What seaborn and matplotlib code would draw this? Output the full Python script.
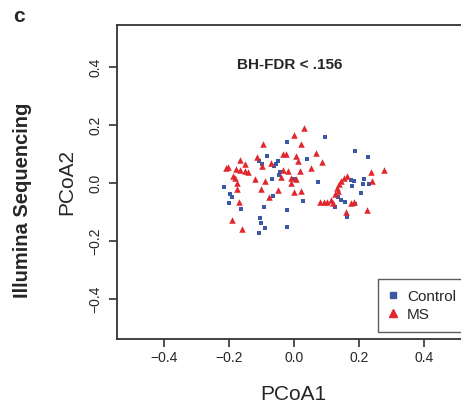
import numpy as np
import pandas as pd
import matplotlib
matplotlib.use("Agg")
import matplotlib.pyplot as plt
from matplotlib.lines import Line2D
import seaborn as sns

# ---- data ----
ms_x = [0.029, -0.002, -0.096, 0.022, 0.068, -0.114, -0.035, -0.027, 0.006, 0.010,
        -0.166, -0.153, -0.073, -0.098, 0.085, -0.210, -0.203, -0.178, -0.168, -0.153,
        -0.141, -0.035, -0.018, 0.019, 0.052, -0.188, -0.182, -0.120, -0.090, -0.040,
        -0.009, 0.006, -0.176, -0.175, -0.101, -0.049, -0.011, -0.001, 0.022, -0.077,
        -0.169, 0.078, 0.091, 0.102, -0.192, -0.160, 0.162, 0.152, 0.145, 0.138,
        0.132, 0.134, 0.124, 0.114, 0.119, 0.175, 0.182, 0.160, 0.224, 0.235,
        0.276, 0.239]
ms_y = [0.191, 0.166, 0.133, 0.134, 0.104, 0.089, 0.099, 0.099, 0.093, 0.076,
        0.079, 0.066, 0.068, 0.060, 0.072, 0.053, 0.054, 0.047, 0.045, 0.042,
        0.039, 0.044, 0.041, 0.042, 0.053, 0.023, 0.018, 0.015, 0.008, 0.020,
        0.016, 0.014, -0.001, -0.022, -0.022, -0.024, 0.001, -0.030, -0.027, -0.047,
        -0.067, -0.064, -0.064, -0.064, -0.128, -0.160, 0.025, 0.018, 0.008, -0.004,
        -0.016, -0.028, -0.039, -0.059, -0.070, -0.068, -0.064, -0.101, -0.093, 0.039,
        0.044, 0.008]
ctrl_x = [0.094, -0.022, 0.188, -0.083, -0.108, -0.098, -0.050, -0.055, -0.061, 0.039,
          -0.043, -0.047, -0.068, -0.001, 0.072, -0.215, -0.197, -0.192, -0.202, -0.165,
          -0.066, 0.028, -0.093, -0.022, -0.104, -0.101, -0.091, -0.110, -0.022, 0.174,
          0.184, 0.178, 0.134, 0.145, 0.155, 0.124, 0.161, 0.228, 0.214, 0.211,
          0.231, 0.206, 0.186]
ctrl_y = [0.158, 0.140, 0.111, 0.093, 0.075, 0.066, 0.076, 0.064, 0.059, 0.082,
          0.039, 0.028, 0.015, 0.015, 0.003, -0.013, -0.039, -0.047, -0.070, -0.091,
          -0.045, -0.062, -0.083, -0.092, -0.122, -0.137, -0.154, -0.171, -0.151, 0.010,
          0.007, -0.010, -0.047, -0.059, -0.067, -0.082, -0.118, 0.089, 0.013, -0.004,
          -0.003, -0.033, -0.072]
groups = ["Control", "MS"]
x_ticks = [-0.4, -0.2, 0.0, 0.2, 0.4]
y_ticks = [-0.4, -0.2, 0.0, 0.2, 0.4]
annotation = "BH-FDR < .156"

df = pd.DataFrame({
    "PCoA1": ctrl_x + ms_x,
    "PCoA2": ctrl_y + ms_y,
    "Group": [groups[0]] * len(ctrl_x) + [groups[1]] * len(ms_x),
})

sns.set_style("ticks")
plt.rcParams["font.family"] = ["Liberation Sans", "DejaVu Sans"]

W, H = 461, 403
fig = plt.figure(figsize=(W / 100, H / 100), dpi=100)
left, right, top, bottom = 117, 470, 25, 339
aw, ah = right - left, bottom - top
ax = fig.add_axes([left / W, 1 - bottom / H, aw / W, ah / H])

palette = {"Control": "#3b58a5", "MS": "#e2262d"}
markers = {"Control": "s", "MS": "^"}
sizes = {"Control": 10, "MS": 22}
for g in groups:
    sub = df[df["Group"] == g]
    sns.scatterplot(data=sub, x="PCoA1", y="PCoA2", color=palette[g], marker=markers[g],
                    s=sizes[g], linewidth=0, ax=ax, legend=False)

ax.set_xlim(-0.545, 0.54)
ax.set_ylim(-0.538, 0.545)
ax.set_xticks(x_ticks)
ax.set_yticks(y_ticks)
ax.set_xticklabels([f"{t:.1f}".replace("-", "\u2212") for t in x_ticks], fontsize=10)
ax.set_yticklabels([f"{t:.1f}".replace("-", "\u2212") for t in y_ticks], fontsize=10,
                   rotation=90, va="center")
ax.tick_params(direction="out", length=6, width=1.2, color="#333333", pad=3)
ax.tick_params(axis="y", pad=4.5)
for sp in ax.spines.values():
    sp.set_color("#333333")
    sp.set_linewidth(1.3)

ax.set_xlabel("PCoA1", fontsize=15, labelpad=14)
ax.set_ylabel("PCoA2", fontsize=15, labelpad=9)
ax.text((290 - left) / aw, (bottom - 65) / ah, annotation, transform=ax.transAxes,
        fontsize=11, fontweight="bold", ha="center", va="center")

fig.text(22 / W, 1 - 200 / H, "Illumina Sequencing", rotation=90, fontsize=14.5,
         fontweight="bold", ha="center", va="center")
fig.text(19 / W, 1 - 16 / H, "c", fontsize=15, fontweight="bold", ha="center", va="center")

handles = [Line2D([], [], linestyle="none", marker=markers[g], color=palette[g],
                  markersize=4 if g == "Control" else 6) for g in groups]
leg = ax.legend(handles, groups, loc="upper left", fontsize=11, frameon=True,
                fancybox=False, edgecolor="#333333", handlelength=0.5,
                handletextpad=0.7, borderpad=0.7, labelspacing=0.25,
                borderaxespad=0,
                bbox_to_anchor=((378 - left) / aw, (bottom - 279) / ah))
leg.get_frame().set_linewidth(1.0)

fig.savefig("out.png", dpi=100)
